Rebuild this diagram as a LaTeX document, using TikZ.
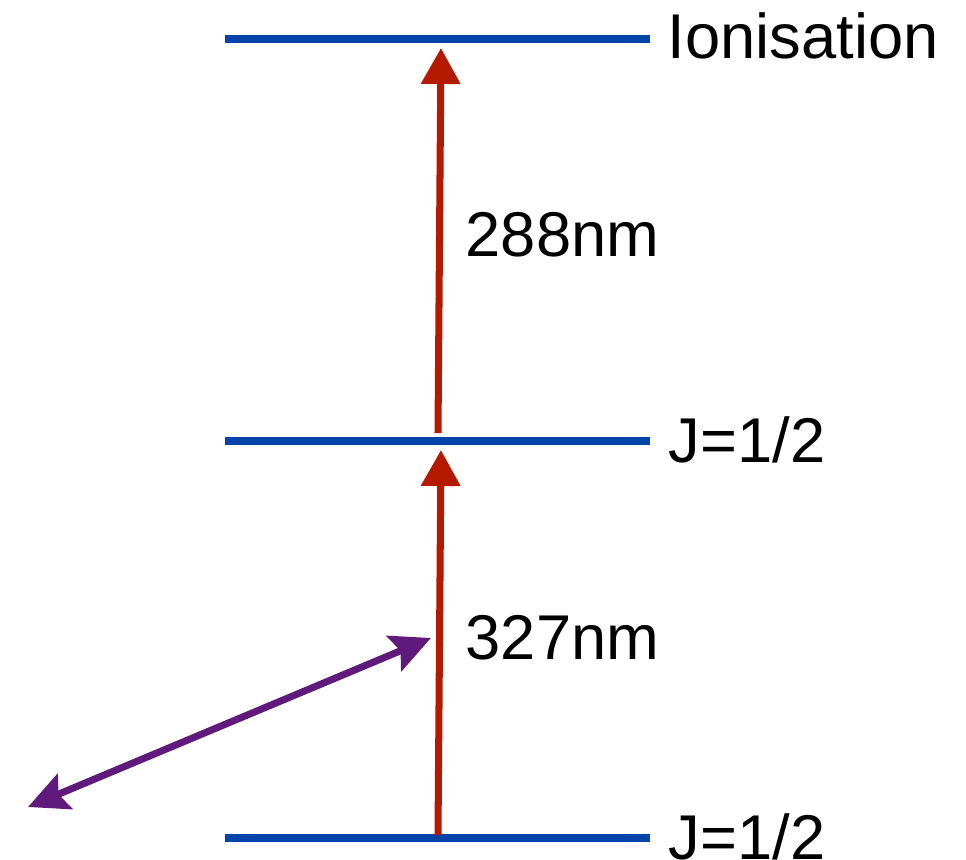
\documentclass[tikz,border=0pt]{standalone}
\usepackage{fontspec}
\setmainfont{Liberation Sans}
\usepackage{tikz}
\usetikzlibrary{positioning,calc,arrows.meta}
\definecolor{levelblue}{HTML}{0044AA}
\definecolor{laserred}{HTML}{B41A00}
\definecolor{fibrepurple}{HTML}{5F1A7C}

\tikzset{
  level/.style={draw=levelblue, line width=2.1pt},
  laser/.style={draw=laserred, line width=2pt, -{Triangle[length=3.6mm, width=3.8mm]}},
  coupling/.style={draw=fibrepurple, line width=2pt, {Stealth[length=4mm, width=3.8mm, inset=0.7mm]}-{Stealth[length=4mm, width=3.8mm, inset=0.7mm]}},
  lbl/.style={anchor=base west, inner sep=0pt, font=\fontsize{18}{21}\selectfont}
}

\begin{document}
\begin{tikzpicture}[x=0.1mm, y=-0.1mm]
  \useasboundingbox (0,0) rectangle (966,860);

  % energy levels: ground (y=838), intermediate (y=441), ionisation (y=39)
  \foreach \name/\ypos in {ground/838, mid/441, ion/39} {
    \coordinate (\name L) at (225, \ypos);
    \coordinate (\name R) at (650, \ypos);
    \draw[level] (\name L) -- (\name R);
  }
  \node[lbl] (ionlbl) at (667, 59) {Ionisation};
  \node[lbl] (midlbl) at (668, 463) {J=1/2};
  \node[lbl] (groundlbl) at (668, 859) {J=1/2};

  % laser steps
  \coordinate (s1a) at (438, 835);
  \coordinate (s1b) at (441, 450);
  \coordinate (s2a) at (438, 433);
  \coordinate (s2b) at (441, 48);
  \draw[laser] (s1a) -- (s1b);
  \draw[laser] (s2a) -- (s2b);
  \node[lbl] (w1) at (465, 659) {327nm};
  \node[lbl] (w2) at (465, 257) {288nm};

  % double arrow
  \coordinate (pa) at (28, 807);
  \coordinate (pb) at (431, 638);
  \draw[coupling] (pa) -- (pb);
\end{tikzpicture}
\end{document}
